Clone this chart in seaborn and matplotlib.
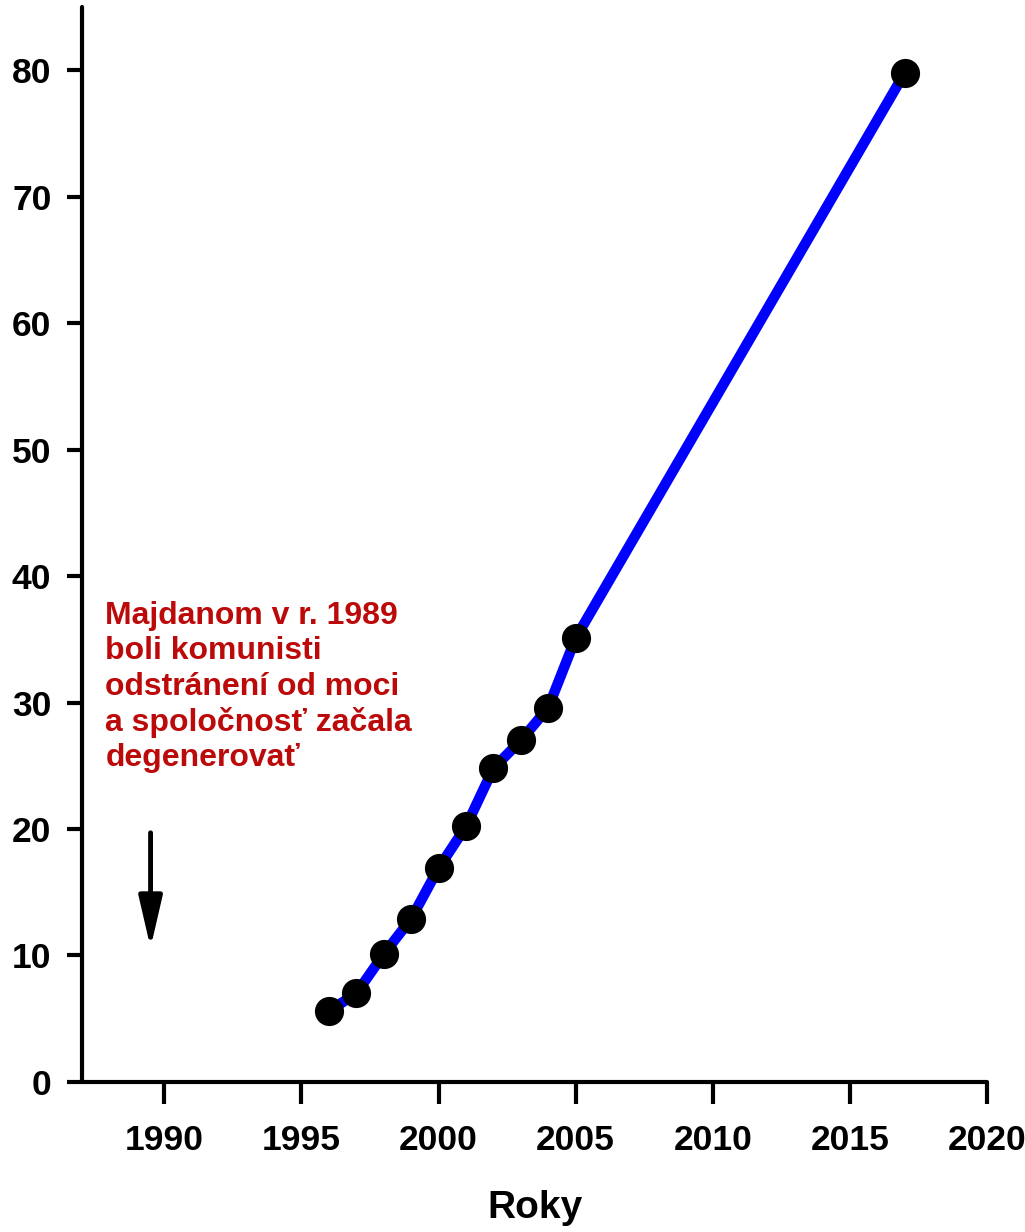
import matplotlib
matplotlib.use("Agg")
import matplotlib.pyplot as plt
import seaborn as sns
import pandas as pd

years = [1996, 1997, 1998, 1999, 2000, 2001, 2002, 2003, 2004, 2005, 2017]
values = [5.6, 7.0, 10.1, 12.9, 16.9, 20.2, 24.8, 27.0, 29.6, 35.1, 79.8]
x_ticks = [1990, 1995, 2000, 2005, 2010, 2015, 2020]
y_ticks = [0, 10, 20, 30, 40, 50, 60, 70, 80]
x_label = "Roky"
note = "Majdanom v r. 1989\nboli komunisti\nodstránení od moci\na spoločnosť začala\ndegenerovať"

sns.set_theme(style="white")
plt.rcParams['font.family'] = ['Liberation Sans', 'DejaVu Sans']

df = pd.DataFrame({"year": years, "value": values})

fig = plt.figure(figsize=(10.25, 12.32), dpi=100)
ax = fig.add_axes([0.08, 0.1218, 0.883, 0.8725])

sns.lineplot(data=df, x="year", y="value", ax=ax, color="#0000FF", linewidth=7.5,
             marker="o", markersize=21, markerfacecolor="black", markeredgecolor="black",
             markeredgewidth=0)

ax.set_xlim(1987, 2020)
ax.set_ylim(0, 85)
ax.set_xticks(x_ticks)
ax.set_yticks(y_ticks)
ax.set_xticklabels([str(t) for t in x_ticks], fontsize=25.5, fontweight="bold", color="black")
ax.set_yticklabels([str(t) for t in y_ticks], fontsize=25.5, fontweight="bold", color="black")
ax.tick_params(axis="x", direction="out", length=16, width=3, pad=14, colors="black")
ax.tick_params(axis="y", direction="out", length=11, width=3, pad=11, colors="black")
ax.tick_params(bottom=True, left=True)
for side in ["top", "right"]:
    ax.spines[side].set_visible(False)
for side in ["left", "bottom"]:
    ax.spines[side].set_linewidth(3)
    ax.spines[side].set_color("black")
    ax.spines[side].set_capstyle("round")

ax.set_xlabel(x_label, fontsize=28, fontweight="bold", labelpad=24, color="black")
ax.set_ylabel("")

ax.text(1987.85, 38.0, note, color="#BC0A0A", fontsize=23, fontweight="bold",
        va="top", ha="left", linespacing=1.22)

ax.annotate("", xy=(1989.5, 10.6), xytext=(1989.5, 19.7),
            arrowprops=dict(arrowstyle="-|>,head_length=2.6,head_width=0.6", color="black",
                            lw=3.5, shrinkA=0, shrinkB=0))

fig.savefig("out.png", dpi=100)
